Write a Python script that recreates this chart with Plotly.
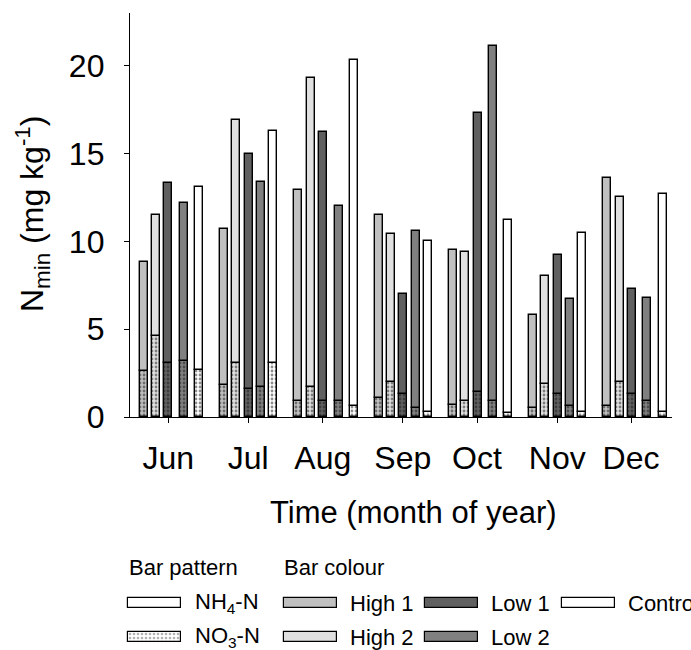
import plotly.graph_objects as go

# ---------------- data ----------------
months = ["Jun", "Jul", "Aug", "Sep", "Oct", "Nov", "Dec"]
month_tick_day = [15.3, 47.3, 77.1, 109.1, 138.8, 170.9, 200.4]

treatments = ["High 1", "High 2", "Low 1", "Low 2", "Control"]

# sampling day of each bar (days from start of axis)
high1_day = [5.6, 37.6, 67.2, 99.4, 129.0, 161.2, 190.8]
high2_day = [10.4, 42.4, 72.2, 104.4, 134.0, 166.0, 195.8]
low1_day = [15.2, 47.4, 77.2, 109.2, 139.0, 171.0, 200.6]
low2_day = [21.6, 52.4, 83.4, 114.2, 145.0, 176.0, 206.8]
control_day = [27.6, 57.2, 89.6, 119.2, 151.2, 180.8, 213.2]

# total Nmin (mg/kg)
high1_total = [8.8, 10.7, 12.9, 11.5, 9.5, 5.8, 13.6]
high2_total = [11.5, 16.9, 19.3, 10.4, 9.4, 8.0, 12.5]
low1_total = [13.3, 15.0, 16.2, 7.0, 17.3, 9.2, 7.3]
low2_total = [12.2, 13.4, 12.0, 10.6, 21.1, 6.7, 6.8]
control_total = [13.1, 16.3, 20.3, 10.0, 11.2, 10.5, 12.7]

# NO3-N part (mg/kg)
high1_no3 = [2.6, 1.8, 0.9, 1.1, 0.7, 0.5, 0.6]
high2_no3 = [4.6, 3.1, 1.7, 2.0, 0.9, 1.9, 2.0]
low1_no3 = [3.1, 1.6, 0.9, 1.3, 1.4, 1.3, 1.3]
low2_no3 = [3.2, 1.7, 0.9, 0.5, 0.9, 0.6, 0.9]
control_no3 = [2.7, 3.1, 0.6, 0.3, 0.2, 0.3, 0.3]

# ---------------- styles ----------------
colors = ["#c0c0c0", "#e0e0e0", "#606060", "#808080", "#ffffff"]
FONT = "Liberation Sans, Arial, sans-serif"
W, H = 691, 650
BAR_W = 3.2
LINE = dict(color="#000000", width=1.4)
PATTERN = dict(shape=".", fgcolor="#1a1a1a", size=4, solidity=0.38, fillmode="overlay")

days = [high1_day, high2_day, low1_day, low2_day, control_day]
totals = [high1_total, high2_total, low1_total, low2_total, control_total]
no3s = [high1_no3, high2_no3, low1_no3, low2_no3, control_no3]

fig = go.Figure()

for name, col, d, tot, no3 in zip(treatments, colors, days, totals, no3s):
    nh4 = [t - n for t, n in zip(tot, no3)]
    fig.add_trace(go.Bar(
        x=d, y=no3, width=BAR_W, name=name + " NO3-N",
        marker=dict(color=col, line=LINE, pattern=PATTERN),
        showlegend=False, xaxis="x", yaxis="y"))
    fig.add_trace(go.Bar(
        x=d, y=nh4, base=no3, width=BAR_W, name=name + " NH4-N",
        marker=dict(color=col, line=LINE),
        showlegend=False, xaxis="x", yaxis="y"))

# ---------------- custom legend (pixel coords on hidden axis) ----------------
SW_W, SW_H = 53, 10
legend_items = [
    # (left, y center, fill, patterned, label, label_left)
    (128, 603, "#ffffff", False, "NH<sub>4</sub>-N", 193),
    (128, 637, "#ffffff", True, "NO<sub>3</sub>-N", 193),
    (284, 603, colors[0], False, "High 1", 348),
    (284, 637, colors[1], False, "High 2", 348),
    (425, 603, colors[2], False, "Low 1", 489),
    (425, 637, colors[3], False, "Low 2", 489),
    (562, 603, colors[4], False, "Control", 626),
]
annotations = []
for left, yc, fill, pat, label, tl in legend_items:
    mk = dict(color=fill, line=dict(color="#000000", width=1.2))
    if pat:
        mk["pattern"] = dict(shape=".", fgcolor="#666666", size=4, solidity=0.35, fillmode="overlay")
    fig.add_trace(go.Bar(
        y=[yc], x=[SW_W], base=[left], width=[SW_H], orientation="h",
        marker=mk, showlegend=False, xaxis="x2", yaxis="y2", hoverinfo="skip"))
    annotations.append(dict(
        x=tl, y=yc, xref="x2", yref="y2", text=label, showarrow=False,
        xanchor="left", yanchor="middle", font=dict(family=FONT, size=22, color="#000")))

annotations.append(dict(x=127, y=567, xref="x2", yref="y2", text="Bar pattern", showarrow=False,
                        xanchor="left", yanchor="middle", font=dict(family=FONT, size=22, color="#000")))
annotations.append(dict(x=282, y=567, xref="x2", yref="y2", text="Bar colour", showarrow=False,
                        xanchor="left", yanchor="middle", font=dict(family=FONT, size=22, color="#000")))

# axis titles
annotations.append(dict(x=413, y=512, xref="x2", yref="y2", text="Time (month of year)", showarrow=False,
                        xanchor="center", yanchor="middle", font=dict(family=FONT, size=31, color="#000")))
annotations.append(dict(x=32, y=214, xref="x2", yref="y2",
                        text="N<sub>min</sub> (mg kg<sup>-1</sup>)", textangle=-90, showarrow=False,
                        xanchor="center", yanchor="middle", font=dict(family=FONT, size=32, color="#000")))

PX0, PX1, PY_TOP, PY_BOT = 130, 672, 13, 417

fig.update_layout(
    width=W, height=H,
    margin=dict(l=0, r=0, t=0, b=0),
    paper_bgcolor="white", plot_bgcolor="rgba(0,0,0,0)",
    barmode="overlay", bargap=0,
    font=dict(family=FONT, color="#000"),
    annotations=annotations,
    xaxis=dict(domain=[PX0 / W, PX1 / W], range=[0, (PX1 - PX0) / 2.5],
               tickvals=month_tick_day, ticktext=months,
               ticks="outside", ticklen=5, tickwidth=1.3, tickcolor="#000",
               showline=True, linecolor="#000", linewidth=1.3,
               showgrid=False, zeroline=False, automargin=False,
               tickfont=dict(family=FONT, size=32, color="#000"),
               ticklabelstandoff=7, anchor="y"),
    yaxis=dict(domain=[1 - PY_BOT / H, 1 - PY_TOP / H], range=[0, 23],
               tickvals=[0, 5, 10, 15, 20],
               ticks="outside", ticklen=5, tickwidth=1.3, tickcolor="#000",
               showline=True, linecolor="#000", linewidth=1.3,
               showgrid=False, zeroline=False, automargin=False,
               tickfont=dict(family=FONT, size=32, color="#000"),
               ticklabelstandoff=13, anchor="x"),
    xaxis2=dict(domain=[0, 1], range=[0, W], visible=False, anchor="y2", fixedrange=True),
    yaxis2=dict(domain=[0, 1], range=[H, 0], visible=False, anchor="x2", fixedrange=True),
)

fig.write_html("out.html", config={"displayModeBar": False},
               post_script="document.body.style.margin='0px';document.body.style.overflow='hidden';")
